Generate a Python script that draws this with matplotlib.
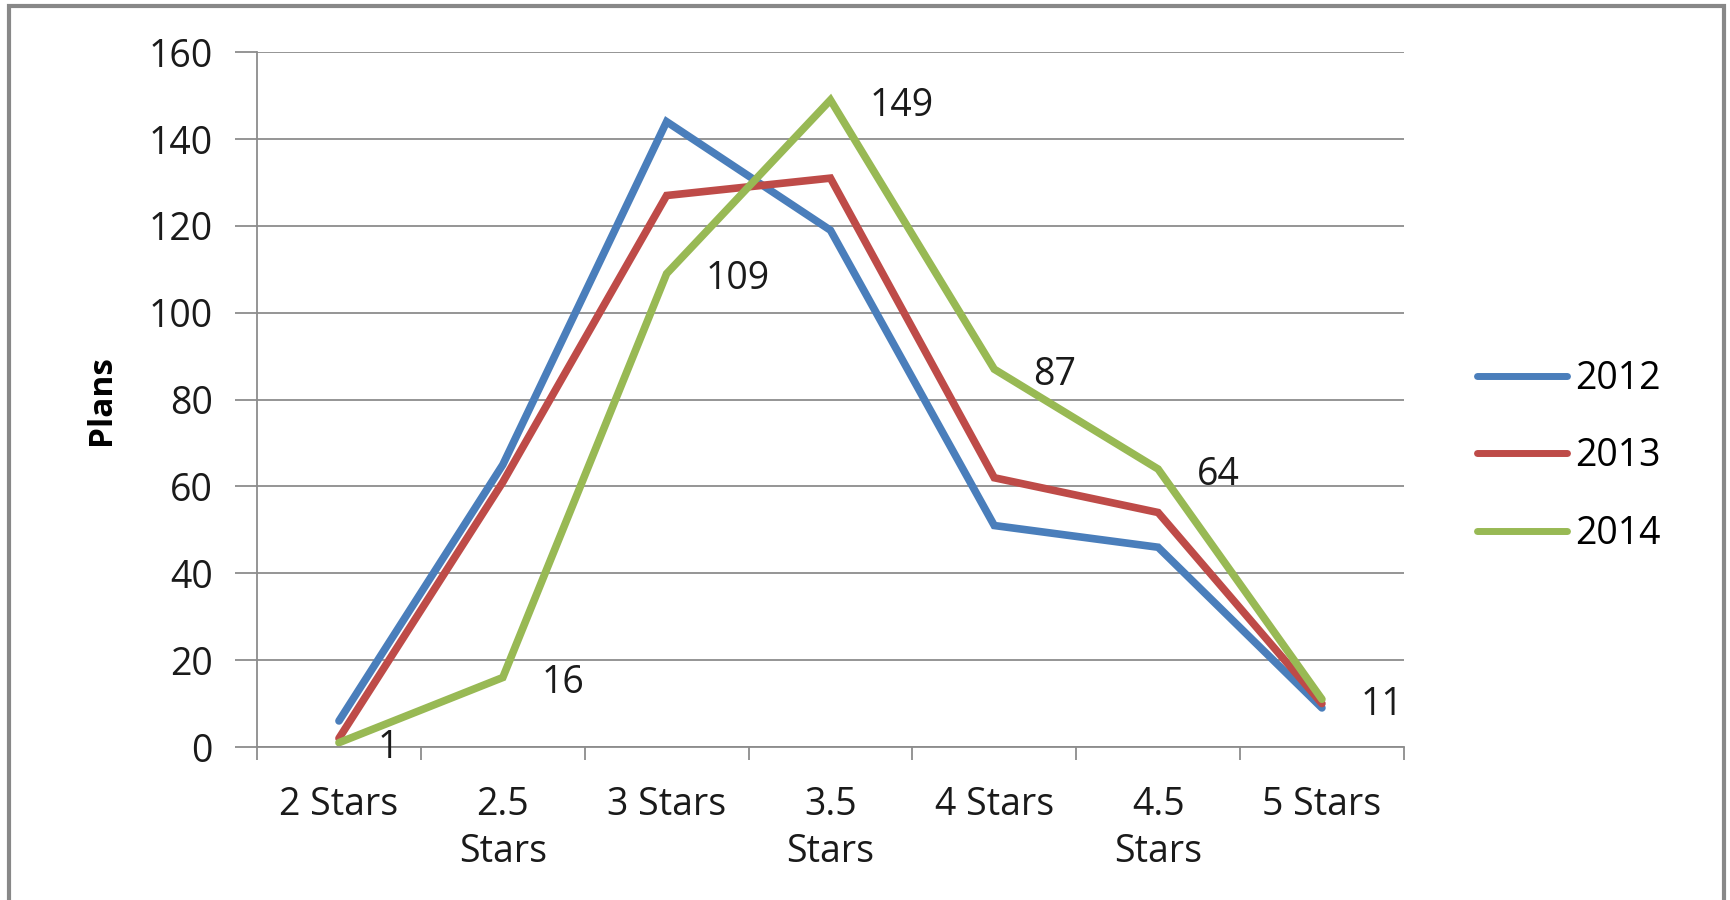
import matplotlib.pyplot as plt
from matplotlib.lines import Line2D

# Datos
categorias = ['2 Stars', '2.5\nStars', '3 Stars', '3.5\nStars', '4 Stars', '4.5\nStars', '5 Stars']
plans_2012 = [6, 65, 144, 119, 51, 46, 9]
plans_2013 = [2, 61, 127, 131, 62, 54, 10]
plans_2014 = [1, 16, 109, 149, 87, 64, 11]
anios = ['2012', '2013', '2014']

plt.rcParams['font.family'] = ['Open Sans', 'DejaVu Sans']

colores = ['#4A7EBB', '#BE4B48', '#98B954']
gris = '#8C8C8C'
fs = 27

fig = plt.figure(figsize=(17.31, 9), dpi=100)
ax = fig.add_axes([0.1485, 0.17, 0.6625, 0.772])

x = range(len(categorias))
for serie, c, nombre in zip([plans_2012, plans_2013, plans_2014], colores, anios):
    ax.plot(x, serie, color=c, linewidth=5.5, solid_capstyle='round',
            solid_joinstyle='miter', label=nombre)

# etiquetas de la serie 2014
for i, v in enumerate(plans_2014):
    ax.annotate(str(v), (i, v), xytext=(28, -4), textcoords='offset points',
                ha='left', va='center', fontsize=fs, color='#1a1a1a')

ax.set_xlim(-0.5, len(categorias) - 0.5)
ax.set_ylim(0, 160)
ax.set_yticks(range(0, 161, 20))
ax.set_xticks(list(x))
ax.set_xticklabels(categorias, fontsize=fs, color='#1a1a1a', linespacing=1.3)
ax.set_xticks([i - 0.5 for i in range(len(categorias) + 1)], minor=True)
ax.tick_params(axis='x', which='major', length=0, pad=28)
ax.tick_params(axis='x', which='minor', length=9, color=gris, width=1.3)
ax.tick_params(axis='y', length=16, color=gris, width=1.3, labelsize=fs,
               labelcolor='#1a1a1a', pad=16)
ax.grid(axis='y', color=gris, linewidth=1.3)
ax.set_axisbelow(True)
for lado in ['top', 'right']:
    ax.spines[lado].set_visible(False)
for lado in ['left', 'bottom']:
    ax.spines[lado].set_color(gris)
    ax.spines[lado].set_linewidth(1.3)

ax.set_ylabel('Plans', fontsize=24, fontweight='bold', labelpad=22)

handles = [Line2D([], [], color=c, linewidth=5, solid_capstyle='round') for c in colores]
fig.legend(handles, anios, loc='center left', bbox_to_anchor=(0.834, 0.493),
           frameon=False, fontsize=fs, handlelength=2.4, handletextpad=0.2,
           labelspacing=1.05)

# marco del grafico
marco = plt.Rectangle((0.005, -0.05), 0.991, 1.043, transform=fig.transFigure,
                      fill=False, edgecolor='#888888', linewidth=3)
fig.patches.append(marco)

fig.savefig('out.png', dpi=100)
